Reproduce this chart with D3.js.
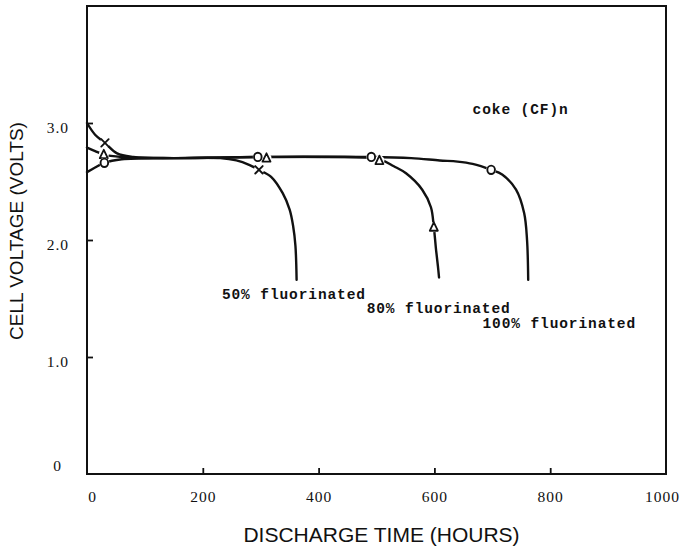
<!DOCTYPE html>
<html>
<head>
<meta charset="utf-8">
<script src="https://cdn.jsdelivr.net/npm/d3@7"></script>
<style>
  body { margin: 0; background: #fff; }
  svg { display: block; }
</style>
</head>
<body>
<svg id="chart" width="680" height="546"></svg>
<script>
// Discharge curves of Li/(CF)n cells made from coke at three fluorination levels
const hours50  = [0, 14, 31, 52, 80, 150, 230, 258, 281, 297, 318, 338, 350, 356, 360, 362];
const volts50  = [3.00, 2.90, 2.83, 2.74, 2.71, 2.70, 2.70, 2.68, 2.64, 2.60, 2.54, 2.40, 2.26, 2.12, 1.95, 1.66];

const hours80  = [0, 14, 29, 60, 150, 300, 420, 505, 530, 551, 579, 594, 599, 603, 606, 608];
const volts80  = [2.79, 2.76, 2.73, 2.71, 2.70, 2.71, 2.71, 2.69, 2.63, 2.57, 2.43, 2.28, 2.11, 1.91, 1.78, 1.68];

const hours100 = [0, 14, 30, 60, 150, 300, 490, 560, 609, 640, 666, 698, 717, 741, 755, 760, 762];
const volts100 = [2.58, 2.62, 2.66, 2.69, 2.70, 2.71, 2.71, 2.70, 2.68, 2.67, 2.65, 2.60, 2.56, 2.43, 2.23, 2.00, 1.66];

// Measured points marked on each curve
const markHours50  = [31, 297];
const markVolts50  = [2.83, 2.60];
const markHours80  = [29, 310, 505, 599];
const markVolts80  = [2.73, 2.70, 2.68, 2.11];
const markHours100 = [30, 295, 491, 698];
const markVolts100 = [2.66, 2.71, 2.71, 2.60];

const seriesNames = ["50% fluorinated", "80% fluorinated", "100% fluorinated"];
const xTickValues = [0, 200, 400, 600, 800, 1000];
const yTickValues = [0, 1, 2, 3];
const yTickLabels = ["0", "1.0", "2.0", "3.0"];
const materialLabel = "coke (CF)n";

const svg = d3.select("#chart");
const x = d3.scaleLinear().domain([0, 1000]).range([87, 666]);
const y = d3.scaleLinear().domain([0, 4]).range([474, 6]);

const series = [
  { name: seriesNames[0], h: hours50,  v: volts50,  mh: markHours50,  mv: markVolts50,  mark: "cross",    at: [233, 1.50] },
  { name: seriesNames[1], h: hours80,  v: volts80,  mh: markHours80,  mv: markVolts80,  mark: "triangle", at: [483, 1.376] },
  { name: seriesNames[2], h: hours100, v: volts100, mh: markHours100, mv: markVolts100, mark: "circle",   at: [683, 1.25] }
];

// Plot frame
svg.append("rect")
  .attr("x", x(0)).attr("y", y(4))
  .attr("width", x(1000) - x(0)).attr("height", y(0) - y(4))
  .attr("fill", "none").attr("stroke", "#111").attr("stroke-width", 2);

const tickFont = "'Liberation Serif', 'DejaVu Serif', serif";

// Bottom axis: inward ticks, labels below
const gx = svg.append("g").attr("transform", `translate(0,${y(0)})`)
  .call(d3.axisBottom(x).tickValues(xTickValues).tickSizeInner(-6).tickSizeOuter(0).tickPadding(17)
    .tickFormat(d3.format("d")));
gx.select(".domain").remove();
gx.selectAll(".tick line").attr("stroke", "#111").attr("stroke-width", 1.8)
  .attr("display", d => (d === 0 || d === 1000) ? "none" : null);
gx.selectAll(".tick text")
  .attr("font-family", tickFont).attr("font-size", 15.5).attr("letter-spacing", 1)
  .attr("fill", "#111")
  .attr("dx", d => d === 0 ? 5 : (d === 1000 ? -4 : 0));

// Left axis
const gy = svg.append("g").attr("transform", `translate(${x(0)},0)`)
  .call(d3.axisLeft(y).tickValues(yTickValues).tickSizeInner(-6).tickSizeOuter(0).tickPadding(18)
    .tickFormat((d, i) => yTickLabels[i]));
gy.select(".domain").remove();
gy.selectAll(".tick line").attr("stroke", "#111").attr("stroke-width", 1.8)
  .attr("display", d => d === 0 ? "none" : null);
gy.selectAll(".tick text")
  .attr("font-family", tickFont).attr("font-size", 15.5).attr("letter-spacing", 1)
  .attr("fill", "#111")
  .attr("dy", d => d === 0 ? "-0.2em" : "0.6em")
  .attr("dx", d => d === 0 ? -7 : 0);

// Axis titles
svg.append("text")
  .attr("x", (x(0) + x(1000)) / 2 + 5).attr("y", 542)
  .attr("text-anchor", "middle")
  .attr("font-family", "'Liberation Sans', Arial, sans-serif").attr("font-size", 21)
  .attr("fill", "#111")
  .text("DISCHARGE TIME (HOURS)");

svg.append("text")
  .attr("transform", "translate(23,231) rotate(-90)")
  .attr("text-anchor", "middle")
  .attr("font-family", "'Liberation Sans', Arial, sans-serif").attr("font-size", 19)
  .attr("fill", "#111")
  .text("CELL VOLTAGE (VOLTS)");

// Curves
const line = d3.line().curve(d3.curveCatmullRom.alpha(0.5));
const curves = svg.append("g").attr("fill", "none").attr("stroke", "#111")
  .attr("stroke-width", 2.4).attr("stroke-linecap", "round").attr("stroke-linejoin", "round");
series.forEach(s => {
  curves.append("path").attr("d", line(s.h.map((h, i) => [x(h), y(s.v[i])])));
});

// Point markers (white knockout behind each glyph breaks the line)
const markG = svg.append("g");
series.forEach(s => {
  s.mh.forEach((h, i) => {
    const cx = x(h), cy = y(s.mv[i]);
    const g = markG.append("g").attr("transform", `translate(${cx},${cy})`);
    g.append("circle").attr("r", 5).attr("fill", "#fff");
    if (s.mark === "circle") {
      g.append("ellipse").attr("rx", 3.8).attr("ry", 4.2).attr("fill", "#fff")
        .attr("stroke", "#111").attr("stroke-width", 1.9);
    } else if (s.mark === "triangle") {
      g.append("path").attr("d", "M0,-4.8L4,3.6L-4,3.6Z").attr("fill", "#fff")
        .attr("stroke", "#111").attr("stroke-width", 1.8).attr("stroke-linejoin", "round");
    } else {
      g.append("path").attr("d", "M-3.7,-3.7L3.7,3.7M3.7,-3.7L-3.7,3.7")
        .attr("stroke", "#111").attr("stroke-width", 1.9).attr("stroke-linecap", "round");
    }
  });
});

// Typewritten annotations
const typeFont = "'Liberation Mono', 'DejaVu Sans Mono', monospace";
series.forEach(s => {
  svg.append("text")
    .attr("x", x(s.at[0])).attr("y", y(s.at[1]))
    .attr("font-family", typeFont).attr("font-size", 14.5).attr("font-weight", "bold")
    .attr("letter-spacing", 0.9).attr("fill", "#111")
    .text(s.name);
});
svg.append("text")
  .attr("x", x(666)).attr("y", y(3.08))
  .attr("font-family", typeFont).attr("font-size", 14.5).attr("font-weight", "bold")
  .attr("letter-spacing", 0.9).attr("fill", "#111")
  .text(materialLabel);
</script>
</body>
</html>
